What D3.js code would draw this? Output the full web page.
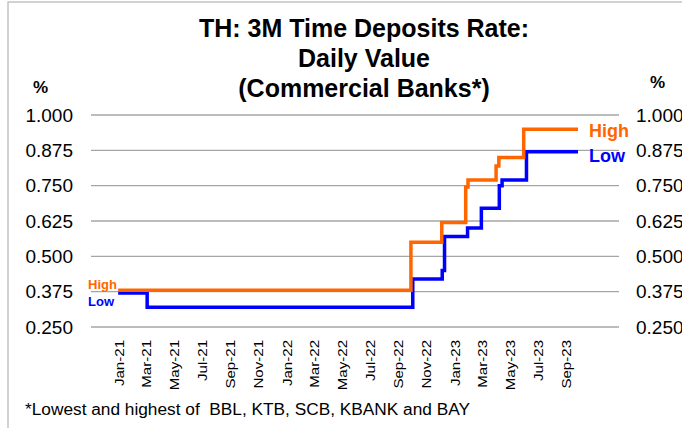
<!DOCTYPE html>
<html>
<head>
<meta charset="utf-8">
<script src="https://cdn.jsdelivr.net/npm/d3@7"></script>
<style>
  body { margin: 0; background: #fff; }
  text { font-family: "Liberation Sans", Arial, sans-serif; }
</style>
</head>
<body>
<div id="chart"></div>
<script>
// step changes of the 3M time deposit rate (date the new rate starts)
var highDates = ["2021-01-01", "2022-09-29", "2022-12-05", "2023-01-26", "2023-01-31",
                 "2023-04-02", "2023-04-08", "2023-06-01", "2023-09-27"];
var highValues = [0.38, 0.55, 0.62, 0.745, 0.77, 0.82, 0.85, 0.95, 0.95];

var lowDates = ["2021-01-01", "2021-03-05", "2022-10-03", "2022-12-06", "2022-12-11",
                "2023-01-30", "2023-03-01", "2023-04-09", "2023-04-15", "2023-06-07", "2023-09-27"];
var lowValues = [0.37, 0.32, 0.42, 0.45, 0.57, 0.60, 0.67, 0.75, 0.77, 0.87, 0.87];

var yTicks = [0.25, 0.375, 0.5, 0.625, 0.75, 0.875, 1.0];
var titleLines = ["TH: 3M Time Deposits Rate:", "Daily Value", "(Commercial Banks*)"];
var note = "*Lowest and highest of  BBL, KTB, SCB, KBANK and BAY";

var W = 682, H = 428;
var plot = {left: 91, right: 619, top: 115, bottom: 327};
var orange = "#ff6600", blue = "#0000ff";

var parse = d3.timeParse("%Y-%m-%d");

var svg = d3.select("#chart").append("svg")
    .attr("width", W)
    .attr("height", H);

// outer frame (runs off the right and bottom of the picture)
svg.append("rect")
    .attr("x", 8).attr("y", 2)
    .attr("width", W + 20).attr("height", H + 20)
    .attr("fill", "none")
    .attr("stroke", "#c4c4c4")
    .attr("stroke-width", 1.5);

var x = d3.scaleTime()
    .domain([parse("2020-11-03"), parse("2023-12-25")])
    .range([plot.left, plot.right]);

var y = d3.scaleLinear()
    .domain([0.25, 1.0])
    .range([plot.bottom, plot.top]);

// title
svg.append("g").selectAll("text")
  .data(titleLines)
  .enter().append("text")
    .attr("x", 364)
    .attr("y", function (d, i) { return 37 + i * 30; })
    .attr("text-anchor", "middle")
    .style("font-size", "25px")
    .style("font-weight", "bold")
    .text(function (d) { return d; });

// % units
svg.append("text").attr("x", 33).attr("y", 93)
    .style("font-size", "17px").style("font-weight", "bold").text("%");
svg.append("text").attr("x", 650).attr("y", 88)
    .style("font-size", "17px").style("font-weight", "bold").text("%");

// gridlines
svg.append("g").selectAll("line")
  .data(yTicks)
  .enter().append("line")
    .attr("x1", plot.left).attr("x2", plot.right)
    .attr("y1", d => y(d)).attr("y2", d => y(d))
    .attr("stroke", "#a6a6a6")
    .attr("stroke-width", 1.3);

// left and right axes
var fmt = d3.format(".3f");
var yLeft = svg.append("g")
    .attr("transform", "translate(73,0)")
    .call(d3.axisLeft(y).tickValues(yTicks).tickFormat(fmt).tickSize(0).tickPadding(0));
var yRight = svg.append("g")
    .attr("transform", "translate(636,0)")
    .call(d3.axisRight(y).tickValues(yTicks).tickFormat(fmt).tickSize(0).tickPadding(0));
[yLeft, yRight].forEach(function (g) {
  g.select(".domain").remove();
  g.selectAll("text")
    .style("font-size", "19px")
    .style("font-family", "'Liberation Sans', Arial, sans-serif")
    .attr("fill", "#000");
});

// x axis, month labels every two months
var xAxis = svg.append("g")
    .attr("transform", "translate(0," + plot.bottom + ")")
    .call(d3.axisBottom(x)
      .tickValues(d3.timeMonth.range(parse("2021-01-01"), parse("2023-10-01"), 2))
      .tickFormat(d3.timeFormat("%b-%y"))
      .tickSize(0));
xAxis.select(".domain").remove();
xAxis.selectAll("text")
    .attr("transform", "rotate(-90) scale(1.12,1)")
    .attr("x", -11.5)
    .attr("y", 0)
    .attr("dy", "0.36em")
    .style("text-anchor", "end")
    .style("font-size", "13.5px")
    .style("font-family", "'Liberation Sans', Arial, sans-serif")
    .attr("fill", "#000");

// the two step lines
var line = d3.line()
    .curve(d3.curveStepAfter)
    .x(d => x(d.date))
    .y(d => y(d.value));

var lowData = lowDates.map((d, i) => ({date: parse(d), value: lowValues[i]}));
var highData = highDates.map((d, i) => ({date: parse(d), value: highValues[i]}));

svg.append("path")
    .datum(lowData)
    .attr("d", line)
    .attr("fill", "none")
    .attr("stroke", blue)
    .attr("stroke-width", 3.5);

svg.append("path")
    .datum(highData)
    .attr("d", line)
    .attr("fill", "none")
    .attr("stroke", orange)
    .attr("stroke-width", 3.5);

// series labels
svg.append("text").attr("x", 88).attr("y", 289)
    .attr("fill", orange).style("font-size", "13px").style("font-weight", "bold").text("High");
svg.append("text").attr("x", 88).attr("y", 306)
    .attr("fill", blue).style("font-size", "13px").style("font-weight", "bold").text("Low");
svg.append("text").attr("x", 589).attr("y", 137)
    .attr("fill", orange).style("font-size", "18px").style("font-weight", "bold").text("High");
svg.append("text").attr("x", 589).attr("y", 162)
    .attr("fill", blue).style("font-size", "18px").style("font-weight", "bold").text("Low");

// footnote
svg.append("text")
    .attr("x", 25).attr("y", 415)
    .attr("textLength", 445)
    .attr("lengthAdjust", "spacingAndGlyphs")
    .style("white-space", "pre")
    .style("font-size", "16px")
    .text(note);
</script>
</body>
</html>
